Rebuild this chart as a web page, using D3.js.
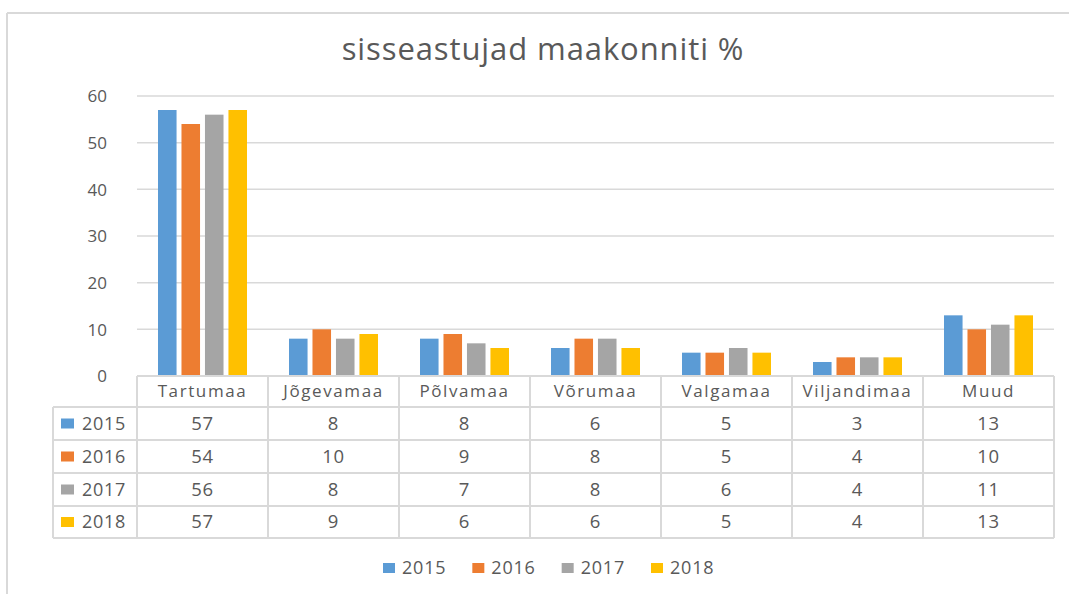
<!DOCTYPE html>
<html><head><meta charset="utf-8">
<script src="https://cdn.jsdelivr.net/npm/d3@7"></script>
<style>
body{margin:0;background:#fff;}
text{font-family:"Open Sans",sans-serif;fill:#595959;}
</style></head>
<body>
<svg id="c" width="1069" height="594"></svg>
<script>
const title = "sisseastujad maakonniti %";
const categories = ["Tartumaa","Jõgevamaa","Põlvamaa","Võrumaa","Valgamaa","Viljandimaa","Muud"];
const seriesNames = ["2015","2016","2017","2018"];
const v2015 = [57,8,8,6,5,3,13];
const v2016 = [54,10,9,8,5,4,10];
const v2017 = [56,8,7,8,6,4,11];
const v2018 = [57,9,6,6,5,4,13];
const yTicks = [0,10,20,30,40,50,60];
const colors = ["#5b9bd5","#ed7d31","#a5a5a5","#ffc000"];
const seriesValues = [v2015,v2016,v2017,v2018];

const svg = d3.select("#c");
const gridColor = "#d9d9d9";

// outer frame (top and left edges visible)
svg.append("line").attr("x1",7).attr("x2",1069).attr("y1",13).attr("y2",13).attr("stroke","#d9d9d9").attr("stroke-width",2);
svg.append("line").attr("x1",7).attr("x2",7).attr("y1",13).attr("y2",594).attr("stroke","#d9d9d9").attr("stroke-width",2);

svg.append("text").attr("x",543).attr("y",60).attr("text-anchor","middle")
  .style("font-size","31px").style("font-weight","400").style("letter-spacing","0.9px").text(title);

const x0 = d3.scaleBand().domain(categories).range([137,1054]).padding(0);
const x1 = d3.scaleBand().domain(seriesNames).range([21,110]).paddingInner(0.21);
const y = d3.scaleLinear().domain([0,60]).range([376,96]);

// gridlines
svg.append("g").selectAll("line").data(yTicks).join("line")
  .attr("x1",137).attr("x2",1054).attr("y1",d=>y(d)).attr("y2",d=>y(d))
  .attr("stroke",gridColor).attr("stroke-width",1.5);

// y axis labels
const yAxis = d3.axisLeft(y).tickValues(yTicks).tickSize(0).tickPadding(0);
const ga = svg.append("g").attr("transform","translate(107,0)").call(yAxis);
ga.select(".domain").remove();
ga.selectAll("text").style("font-size","17px").style("fill","#595959").style("font-family","'Open Sans',sans-serif").attr("dy","0.35em");

// bars
seriesNames.forEach((s,si)=>{
  svg.append("g").selectAll("rect").data(categories).join("rect")
    .attr("x",c=>x0(c)+x1(s)).attr("width",x1.bandwidth())
    .attr("y",(c,i)=>y(seriesValues[si][i]))
    .attr("height",(c,i)=>y(0)-y(seriesValues[si][i]))
    .attr("fill",colors[si]);
});

// data table
const tableLeft = 53;
const rowTops = [376,407,440,473,506,538];
const tg = svg.append("g");
tg.append("line").attr("x1",137).attr("x2",1054).attr("y1",rowTops[0]).attr("y2",rowTops[0]).attr("stroke",gridColor).attr("stroke-width",2);
rowTops.slice(1).forEach(t=>{
  tg.append("line").attr("x1",tableLeft).attr("x2",1054).attr("y1",t).attr("y2",t).attr("stroke",gridColor).attr("stroke-width",2);
});
tg.append("line").attr("x1",tableLeft).attr("x2",tableLeft).attr("y1",rowTops[1]).attr("y2",rowTops[5]).attr("stroke",gridColor).attr("stroke-width",2);
categories.forEach(c=>{
  tg.append("line").attr("x1",x0(c)).attr("x2",x0(c)).attr("y1",rowTops[0]).attr("y2",rowTops[5]).attr("stroke",gridColor).attr("stroke-width",2);
});
tg.append("line").attr("x1",1054).attr("x2",1054).attr("y1",rowTops[0]).attr("y2",rowTops[5]).attr("stroke",gridColor).attr("stroke-width",2);

// header
tg.selectAll("text.hdr").data(categories).join("text").attr("class","hdr")
  .attr("x",c=>x0(c)+x0.bandwidth()/2).attr("y",(rowTops[0]+rowTops[1])/2).attr("dy","0.35em")
  .attr("text-anchor","middle").style("font-size","17px").style("letter-spacing","1.6px").text(c=>c);

// rows
seriesNames.forEach((s,si)=>{
  const cy = (rowTops[si+1]+rowTops[si+2])/2;
  tg.append("rect").attr("x",61).attr("y",cy-5).attr("width",13).attr("height",10).attr("fill",colors[si]);
  tg.append("text").attr("x",82).attr("y",cy).attr("dy","0.35em").style("font-size","18px").style("letter-spacing","0.7px").text(s);
  tg.selectAll("text.v"+si).data(categories).join("text").attr("class","v"+si)
    .attr("x",c=>x0(c)+x0.bandwidth()/2).attr("y",cy).attr("dy","0.35em")
    .attr("text-anchor","middle").style("font-size","18.5px").style("letter-spacing","0.7px")
    .text((c,i)=>seriesValues[si][i]);
});

// legend
const legend = svg.append("g");
const lx = d3.scalePoint().domain(seriesNames).range([383,651]);
seriesNames.forEach((s,si)=>{
  legend.append("rect").attr("x",lx(s)).attr("y",563).attr("width",12).attr("height",10).attr("fill",colors[si]);
  legend.append("text").attr("x",lx(s)+19).attr("y",568).attr("dy","0.35em").style("font-size","18px").style("letter-spacing","0.8px").text(s);
});
</script>
</body></html>
